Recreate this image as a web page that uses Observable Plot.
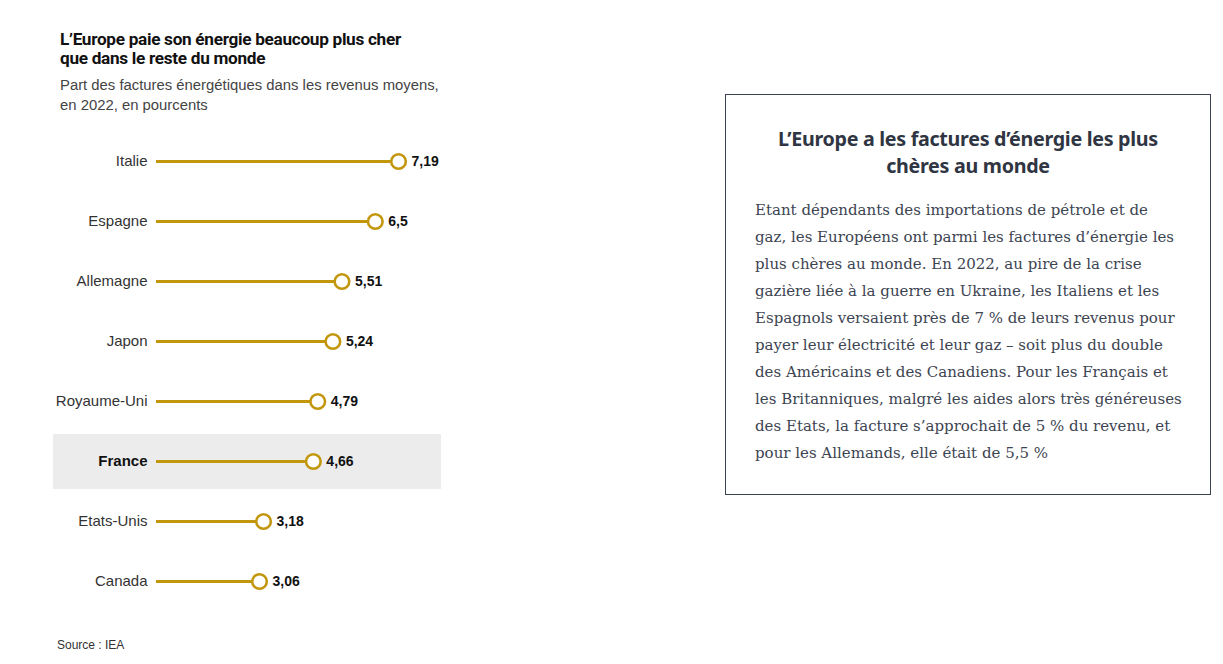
<!DOCTYPE html>
<html>
<head>
<meta charset="utf-8">
<script src="https://cdn.jsdelivr.net/npm/d3@7"></script>
<script src="https://cdn.jsdelivr.net/npm/@observablehq/plot@0.6"></script>
<style>
  html, body { margin:0; padding:0; background:#fff; }
  body { width:1223px; height:664px; position:relative; overflow:hidden; font-family: "Liberation Sans", Arial, sans-serif; }
  #title { position:absolute; left:60px; top:30px; font-family: Roboto, "Liberation Sans", sans-serif; font-weight:700; font-size:17.2px; line-height:19px; color:#111; letter-spacing:-0.3px; }
  #subtitle { position:absolute; left:60px; top:75px; font-family: "Liberation Sans", Arial, sans-serif; font-size:14.85px; line-height:20px; color:#444; }
  #chart { position:absolute; left:50px; top:130px; }
  #source { position:absolute; left:57px; top:638px; font-size:12px; color:#333; }
  #box { position:absolute; left:725px; top:94px; width:486px; height:401px; border:1px solid #3b4250; box-sizing:border-box; }
  #box h2 { margin:0; position:absolute; left:0; right:0; top:30px; text-align:center; font-family: "Noto Sans", "Open Sans", sans-serif; font-weight:700; font-size:19.7px; line-height:27px; color:#2f3542; letter-spacing:-0.3px; }
  #box p { margin:0; position:absolute; left:29px; top:102px; white-space:nowrap; font-family: "DejaVu Serif", serif; font-size:15px; line-height:27px; color:#3d4452; }
</style>
</head>
<body>
<div id="title">L’Europe paie son énergie beaucoup plus cher<br>que dans le reste du monde</div>
<div id="subtitle">Part des factures énergétiques dans les revenus moyens,<br>en 2022, en pourcents</div>
<div id="chart"></div>
<div id="source">Source : IEA</div>
<div id="box">
  <h2>L’Europe a les factures d’énergie les plus<br>chères au monde</h2>
  <p>Etant dépendants des importations de pétrole et de<br>gaz, les Européens ont parmi les factures d’énergie les<br>plus chères au monde. En 2022, au pire de la crise<br>gazière liée à la guerre en Ukraine, les Italiens et les<br>Espagnols versaient près de 7 % de leurs revenus pour<br>payer leur électricité et leur gaz – soit plus du double<br>des Américains et des Canadiens. Pour les Français et<br>les Britanniques, malgré les aides alors très généreuses<br>des Etats, la facture s’approchait de 5 % du revenu, et<br>pour les Allemands, elle était de 5,5 %</p>
</div>
<script>
const countries = ["Italie", "Espagne", "Allemagne", "Japon", "Royaume-Uni", "France", "Etats-Unis", "Canada"];
const values = [7.19, 6.5, 5.51, 5.24, 4.79, 4.66, 3.18, 3.06];
const valueLabels = ["7,19", "6,5", "5,51", "5,24", "4,79", "4,66", "3,18", "3,06"];
const highlight = ["France"];

const data = countries.map((c, i) => ({country: c, value: values[i], label: valueLabels[i]}));
const normal = data.filter(d => !highlight.includes(d.country));
const hl = data.filter(d => highlight.includes(d.country));
const gold = "#c3970d";
const font = "Liberation Sans, Arial, sans-serif";

const chart = Plot.plot({
  width: 395,
  height: 480,
  marginLeft: 3,
  marginRight: 4,
  marginTop: 0,
  marginBottom: 0,
  x: {domain: [0, 8], range: [106, 106 + 8 * 33.66], axis: null},
  y: {type: "point", domain: countries, range: [31, 451], padding: 0, axis: null},
  marks: [
    Plot.ruleY(highlight, {stroke: "#ececec", strokeWidth: 55}),
    Plot.ruleY(data, {y: "country", x1: 0, x2: "value", stroke: gold, strokeWidth: 3}),
    Plot.dot(data, {y: "country", x: "value", r: 7.3, fill: "#fff", stroke: gold, strokeWidth: 2.6}),
    Plot.text(normal, {y: "country", x: 0, text: "country", textAnchor: "end", dx: -9, fontSize: 15, fill: "#333", fontFamily: font}),
    Plot.text(hl, {y: "country", x: 0, text: "country", textAnchor: "end", dx: -9, fontSize: 15, fill: "#111", fontWeight: 700, fontFamily: font}),
    Plot.text(data, {y: "country", x: "value", text: "label", textAnchor: "start", dx: 13, fontSize: 14, fontWeight: 700, fill: "#111", fontFamily: font})
  ]
});
document.getElementById("chart").appendChild(chart);
</script>
</body>
</html>
